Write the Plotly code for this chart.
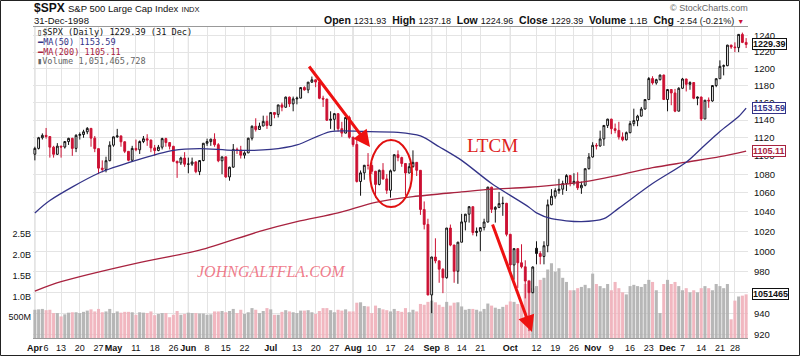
import math
import plotly.graph_objects as go

# ------------------------------------------------------------------ data
month_days = {
    4: [1, 2, 3, 6, 7, 8, 9, 13, 14, 15, 16, 17, 20, 21, 22, 23, 24, 27, 28, 29, 30],
    5: [1, 4, 5, 6, 7, 8, 11, 12, 13, 14, 15, 18, 19, 20, 21, 22, 26, 27, 28, 29],
    6: [1, 2, 3, 4, 5, 8, 9, 10, 11, 12, 15, 16, 17, 18, 19, 22, 23, 24, 25, 26, 29, 30],
    7: [1, 2, 6, 7, 8, 9, 10, 13, 14, 15, 16, 17, 20, 21, 22, 23, 24, 27, 28, 29, 30, 31],
    8: [3, 4, 5, 6, 7, 10, 11, 12, 13, 14, 17, 18, 19, 20, 21, 24, 25, 26, 27, 28, 31],
    9: [1, 2, 3, 4, 8, 9, 10, 11, 14, 15, 16, 17, 18, 21, 22, 23, 24, 25, 28, 29, 30],
    10: [1, 2, 5, 6, 7, 8, 9, 12, 13, 14, 15, 16, 19, 20, 21, 22, 23, 26, 27, 28, 29, 30],
    11: [2, 3, 4, 5, 6, 9, 10, 11, 12, 13, 16, 17, 18, 19, 20, 23, 24, 25, 27, 30],
    12: [1, 2, 3, 4, 7, 8, 9, 10, 11, 14, 15, 16, 17, 18, 21, 22, 23, 24, 28, 29, 30, 31],
}
dates = [f"1998-{m:02d}-{d:02d}" for m, days in month_days.items() for d in days]

opens = [
    1101.75, 1108.15, 1120.01, 1122.70, 1121.38, 1109.55, 1101.65, 1110.67, 1109.69, 1115.75, 1119.32,
    1108.17, 1122.72, 1123.65, 1126.67, 1130.54, 1119.58, 1107.90, 1086.54, 1085.11, 1094.63,
    1111.75, 1121.00, 1122.07, 1115.50, 1104.92, 1095.14, 1108.14, 1106.64, 1115.79, 1118.86,
    1117.37, 1108.73, 1105.82, 1109.52, 1119.06, 1114.64, 1110.47, 1094.02, 1092.23, 1097.60,
    1090.82, 1090.98, 1093.22, 1082.73, 1094.83, 1113.86, 1115.72, 1118.41, 1112.28, 1094.58, 1098.84,
    1077.01, 1087.59, 1107.11, 1106.37, 1100.65, 1103.21, 1119.49, 1132.88, 1129.28, 1133.20, 1138.49,
    1133.84, 1148.56, 1146.42, 1157.33, 1154.66, 1166.38, 1158.56, 1164.33, 1165.19, 1177.58, 1174.81,
    1183.99, 1186.75, 1184.10, 1165.07, 1164.08, 1139.75, 1140.80, 1147.27, 1130.24, 1125.21, 1142.95,
    1120.67, 1112.44, 1072.12, 1081.43, 1089.63, 1089.45, 1083.14, 1068.98, 1084.22, 1074.91, 1062.75,
    1083.67, 1101.20, 1098.06, 1091.60, 1081.24, 1088.14, 1092.85, 1084.19, 1042.59, 1027.14,
    957.28, 994.26, 990.47, 982.26, 973.89, 1023.46, 1006.20, 980.19, 1009.06, 1029.72, 1037.68,
    1045.48, 1018.87, 1020.09, 1023.89, 1029.63, 1066.09, 1042.72, 1044.75, 1048.69, 1049.02,
    1017.01, 986.39, 1002.60, 988.56, 984.59, 970.68, 959.44, 1003.00, 997.71, 994.80, 1005.53,
    1047.49, 1056.42, 1062.39, 1063.93, 1069.92, 1078.48, 1070.67, 1072.32, 1065.34, 1068.09, 1085.93,
    1098.67, 1111.60, 1110.84, 1118.67, 1133.85, 1141.01, 1130.20, 1128.26, 1120.97, 1117.69,
    1125.72, 1135.87, 1139.32, 1144.48, 1152.61, 1163.55, 1188.21, 1182.99, 1186.87, 1192.33,
    1163.63, 1175.28, 1171.25, 1150.14, 1176.74, 1187.70, 1181.38, 1183.49, 1165.02, 1166.46, 1141.20,
    1162.83, 1161.94, 1179.98, 1188.03, 1202.84, 1203.57, 1228.54, 1226.27, 1225.49, 1241.81, 1231.93,
]
highs = [
    1110.0, 1121.0, 1124.9, 1131.0, 1121.4, 1111.0, 1114.0, 1111.0, 1116.0, 1120.0, 1120.0,
    1124.0, 1126.0, 1129.0, 1132.0, 1131.0, 1122.0, 1108.0, 1095.0, 1099.0, 1116.0,
    1121.5, 1130.0, 1122.5, 1116.0, 1105.0, 1111.0, 1118.0, 1117.0, 1122.0, 1124.0,
    1118.0, 1112.0, 1112.0, 1120.0, 1120.0, 1115.0, 1111.0, 1094.5, 1099.0, 1104.0,
    1098.0, 1098.0, 1094.0, 1095.0, 1114.0, 1119.0, 1119.0, 1125.0, 1114.0, 1099.0, 1099.0,
    1088.0, 1113.0, 1109.0, 1111.0, 1105.0, 1120.0, 1134.0, 1142.0, 1137.0, 1145.0, 1145.0,
    1149.0, 1149.0, 1157.5, 1160.0, 1167.0, 1167.0, 1167.0, 1167.0, 1178.0, 1179.0, 1184.0,
    1190.6, 1187.0, 1188.0, 1168.0, 1164.5, 1150.0, 1148.0, 1147.5, 1138.0, 1143.0, 1145.0,
    1121.0, 1119.0, 1084.0, 1090.0, 1103.0, 1093.0, 1083.5, 1085.0, 1092.0, 1080.0,
    1085.0, 1101.5, 1106.0, 1099.0, 1092.0, 1092.0, 1106.0, 1093.0, 1084.5, 1051.0, 1033.0,
    994.5, 1013.0, 990.5, 983.0, 1023.5, 1027.0, 1006.5, 1009.5, 1038.0, 1038.0, 1046.0,
    1045.5, 1024.0, 1024.0, 1033.0, 1066.5, 1066.5, 1046.0, 1061.0, 1056.0, 1049.5,
    1017.5, 1003.0, 1003.0, 1007.0, 991.0, 971.0, 985.0, 1010.0, 1000.0, 1010.0, 1053.0,
    1064.0, 1065.0, 1075.0, 1073.0, 1080.0, 1079.0, 1081.0, 1082.0, 1072.0, 1086.0, 1103.0,
    1115.0, 1114.0, 1128.0, 1134.0, 1141.5, 1141.5, 1136.0, 1138.0, 1126.0, 1127.0,
    1139.0, 1153.0, 1146.0, 1155.0, 1164.0, 1190.0, 1191.0, 1188.0, 1193.0, 1193.0,
    1175.5, 1175.5, 1176.0, 1178.0, 1189.0, 1188.0, 1185.0, 1184.0, 1167.0, 1167.0, 1163.0,
    1166.0, 1180.0, 1188.5, 1210.0, 1205.0, 1229.0, 1229.0, 1232.0, 1242.0, 1244.0, 1237.18,
]
lows = [
    1095.0, 1107.0, 1118.0, 1119.0, 1098.0, 1098.0, 1101.0, 1098.0, 1108.0, 1112.0, 1100.0,
    1104.0, 1118.0, 1120.0, 1124.0, 1110.0, 1104.0, 1080.0, 1082.0, 1082.0, 1094.0,
    1110.0, 1120.0, 1110.0, 1103.0, 1094.0, 1094.0, 1105.0, 1102.0, 1114.0, 1111.0,
    1104.0, 1100.0, 1105.0, 1107.0, 1110.0, 1107.0, 1093.0, 1076.0, 1090.0, 1088.0,
    1081.0, 1089.0, 1081.0, 1079.0, 1094.0, 1111.0, 1111.0, 1110.0, 1093.0, 1080.0, 1076.0,
    1073.0, 1087.0, 1102.0, 1097.0, 1097.0, 1103.0, 1117.0, 1127.0, 1129.0, 1133.0, 1130.0,
    1133.0, 1142.0, 1143.0, 1150.0, 1154.0, 1155.0, 1150.0, 1158.0, 1165.0, 1174.0, 1171.0,
    1183.0, 1178.0, 1164.0, 1155.0, 1139.0, 1130.0, 1128.0, 1127.0, 1121.0, 1125.0, 1119.0,
    1110.0, 1071.0, 1057.0, 1074.0, 1085.0, 1080.0, 1055.0, 1068.0, 1074.0, 1059.0,
    1055.0, 1083.0, 1094.0, 1088.0, 1057.0, 1081.0, 1087.0, 1078.0, 1037.0, 1022.0, 957.0,
    940.0, 988.0, 969.0, 959.0, 973.0, 1005.0, 969.0, 968.0, 1009.0, 1021.0, 1029.0,
    1016.0, 1015.0, 1000.0, 1021.0, 1029.0, 1039.0, 1029.0, 1044.0, 1036.0, 1015.0,
    981.0, 972.0, 964.0, 983.0, 954.0, 923.3, 959.0, 987.0, 987.0, 987.0, 999.0,
    1047.0, 1054.0, 1059.0, 1058.0, 1062.0, 1067.0, 1068.0, 1063.0, 1059.0, 1067.0, 1085.0,
    1098.0, 1107.0, 1110.0, 1111.0, 1131.0, 1124.0, 1125.0, 1118.0, 1116.0, 1117.0,
    1125.0, 1133.0, 1133.0, 1144.0, 1152.0, 1163.0, 1181.0, 1181.0, 1186.0, 1163.0,
    1150.0, 1157.0, 1149.0, 1150.0, 1176.0, 1173.0, 1175.0, 1164.0, 1157.0, 1139.0, 1141.0,
    1154.0, 1161.0, 1178.0, 1188.0, 1192.0, 1203.0, 1224.0, 1220.0, 1220.0, 1231.0, 1224.96,
]
closes = [
    1108.15, 1120.01, 1122.70, 1121.38, 1109.55, 1101.65, 1110.67, 1109.69, 1115.75, 1119.32, 1108.17,
    1122.72, 1123.65, 1126.67, 1130.54, 1119.58, 1107.90, 1086.54, 1085.11, 1094.63, 1111.75,
    1121.00, 1122.07, 1115.50, 1104.92, 1095.14, 1108.14, 1106.64, 1115.79, 1118.86, 1117.37,
    1108.73, 1105.82, 1109.52, 1119.06, 1114.64, 1110.47, 1094.02, 1092.23, 1097.60, 1090.82,
    1090.98, 1093.22, 1082.73, 1094.83, 1113.86, 1115.72, 1118.41, 1112.28, 1094.58, 1098.84, 1077.01,
    1087.59, 1107.11, 1106.37, 1100.65, 1103.21, 1119.49, 1132.88, 1129.28, 1133.20, 1138.49, 1133.84,
    1148.56, 1146.42, 1157.33, 1154.66, 1166.38, 1158.56, 1164.33, 1165.19, 1177.58, 1174.81, 1183.99,
    1186.75, 1184.10, 1165.07, 1164.08, 1139.75, 1140.80, 1147.27, 1130.24, 1125.21, 1142.95, 1120.67,
    1112.44, 1072.12, 1081.43, 1089.63, 1089.45, 1083.14, 1068.98, 1084.22, 1074.91, 1062.75,
    1083.67, 1101.20, 1098.06, 1091.60, 1081.24, 1088.14, 1092.85, 1084.19, 1042.59, 1027.14, 957.28,
    994.26, 990.47, 982.26, 973.89, 1023.46, 1006.20, 980.19, 1009.06, 1029.72, 1037.68, 1045.48,
    1018.87, 1020.09, 1023.89, 1029.63, 1066.09, 1042.72, 1044.75, 1048.69, 1049.02, 1017.01,
    986.39, 1002.60, 988.56, 984.59, 970.68, 959.44, 984.39, 997.71, 994.80, 1005.53, 1047.49,
    1056.42, 1062.39, 1063.93, 1069.92, 1078.48, 1070.67, 1072.32, 1065.34, 1068.09, 1085.93, 1098.67,
    1111.60, 1110.84, 1118.67, 1133.85, 1141.01, 1130.20, 1128.26, 1120.97, 1117.69, 1125.72,
    1135.87, 1139.32, 1144.48, 1152.61, 1163.55, 1188.21, 1182.99, 1186.87, 1192.33, 1163.63,
    1175.28, 1171.25, 1150.14, 1176.74, 1187.70, 1181.38, 1183.49, 1165.02, 1166.46, 1141.20, 1162.83,
    1161.94, 1179.98, 1188.03, 1202.84, 1203.57, 1228.54, 1226.27, 1225.49, 1241.81, 1231.93, 1229.39,
]
volumes_m = [
    680, 690, 700, 670, 680, 600, 600, 520, 570, 610, 620, 620, 600, 630, 660, 690, 640, 700, 620, 640, 700,
    600, 640, 610, 630, 630, 620, 560, 620, 610, 600, 640, 550, 580, 600, 600, 500, 560, 650, 560, 580,
    610, 600, 600, 590, 590, 560, 570, 640, 640, 650, 620, 650, 700, 600, 680, 580, 620, 720, 680, 600, 650, 720,
    690, 560, 560, 630, 670, 640, 620, 600, 660, 660, 670, 620, 580, 650, 720, 720, 670, 620, 680, 660, 690, 640,
    640, 850, 860, 770, 760, 600, 780, 720, 690, 670, 640, 700, 650, 630, 720, 620, 680, 640, 820, 800, 870,
    900, 860, 800, 750, 870, 780, 850, 860, 760, 680, 700, 700, 680, 640, 700, 830, 780, 730, 700, 750, 800,
    880, 870, 820, 800, 1300, 1400, 1200, 1250, 1400, 1450, 1650, 1800, 1600, 1680, 1450, 1350, 1150, 1150,
    1200, 1230, 1280, 1200,
    1550, 1300, 1250, 1200, 1300, 1150, 1350, 1200, 1100, 1050, 1250, 1280, 1250, 1230, 1300, 1400, 1350,
    1150, 600, 1300,
    1400, 1300, 1350, 1250, 1150, 1200, 1100, 1150, 1100, 1200, 1250, 1200, 1150, 1300, 1250, 1200, 1300,
    450, 900, 1000, 1020, 1051.47,
]

ma50_dates = ["1998-04-01", "1998-04-07", "1998-04-27", "1998-05-11", "1998-05-26", "1998-06-04",
              "1998-06-17", "1998-07-01", "1998-07-13", "1998-07-24", "1998-08-06", "1998-08-19",
              "1998-08-27", "1998-09-03", "1998-09-14", "1998-09-24", "1998-10-08", "1998-10-12",
              "1998-10-16", "1998-10-28", "1998-11-05", "1998-11-11", "1998-11-24", "1998-12-08",
              "1998-12-14", "1998-12-21", "1998-12-29", "1998-12-31"]
ma50_vals = [1039, 1052, 1081, 1095, 1106, 1108, 1106, 1107, 1112, 1127, 1127, 1126, 1122, 1110,
             1095, 1070, 1045, 1039, 1033, 1030, 1033, 1044, 1070, 1093, 1108, 1127, 1144, 1153.59]

ma200_dates = ["1998-04-01", "1998-04-13", "1998-05-11", "1998-06-04", "1998-06-26", "1998-07-13",
               "1998-07-28", "1998-08-11", "1998-08-25", "1998-09-14", "1998-09-24", "1998-10-08",
               "1998-10-29", "1998-11-11", "1998-11-24", "1998-12-08", "1998-12-21", "1998-12-31"]
ma200_vals = [961, 970, 988, 1001, 1020, 1030, 1039, 1050, 1056, 1061, 1064, 1066, 1072, 1079,
              1087, 1093, 1099, 1105.11]

tick_dates = ["1998-04-01", "1998-04-06", "1998-04-13", "1998-04-20", "1998-04-27", "1998-05-01",
              "1998-05-11", "1998-05-18", "1998-05-26", "1998-06-01", "1998-06-08", "1998-06-15",
              "1998-06-22", "1998-07-01", "1998-07-13", "1998-07-20", "1998-07-27", "1998-08-03",
              "1998-08-10", "1998-08-17", "1998-08-24", "1998-09-01", "1998-09-08", "1998-09-14",
              "1998-09-21", "1998-10-01", "1998-10-12", "1998-10-19", "1998-10-26", "1998-11-02",
              "1998-11-09", "1998-11-16", "1998-11-23", "1998-12-01", "1998-12-07", "1998-12-14",
              "1998-12-21", "1998-12-28"]
tick_text = ["Apr", "6", "13", "20", "27", "May", "11", "18", "26", "Jun", "8", "15", "22", "Jul",
             "13", "20", "27", "Aug", "10", "17", "24", "Sep", "8", "14", "21", "Oct", "12", "19",
             "26", "Nov", "9", "16", "23", "Dec", "7", "14", "21", "28"]
month_names = ["Apr", "May", "Jun", "Jul", "Aug", "Sep", "Oct", "Nov", "Dec"]

price_ticks = [920, 940, 960, 980, 1000, 1020, 1040, 1060, 1080, 1100, 1120, 1140, 1160, 1180,
               1200, 1220, 1240]
vol_ticks = [5e8, 1e9, 1.5e9, 2e9, 2.5e9]
vol_tick_text = ["500M", "1.0B", "1.5B", "2.0B", "2.5B"]

# ------------------------------------------------------------------ helpers
W, H = 800, 356
ML, MR, MT, MB = 33, 52, 27, 18
PW, PH = W - ML - MR, H - MT - MB


def fx(px):
    return (px - ML) / PW


def fy(py):
    return (H - MB - py) / PH


RED = "#cc1133"
NAVY = "#333388"
MAROON = "#a8223f"
SANS = "Liberation Sans, Arial, sans-serif"
MONO = "DejaVu Sans Mono, monospace"

idx = list(range(len(dates)))
pos = {d: i for i, d in enumerate(dates)}
prev_close = [opens[0]] + closes[:-1]
is_up = [c >= p for c, p in zip(closes, prev_close)]
volumes = [v * 1e6 for v in volumes_m]

fig = go.Figure()

# volume bars (primary y = left volume axis)
fig.add_trace(go.Bar(
    x=idx, y=volumes, yaxis="y",
    marker=dict(color=["#b0b0b0" if u else "#f0b0ba" for u in is_up], line=dict(width=0)),
    opacity=0.9, width=0.82, hoverinfo="skip", showlegend=False,
))

# moving averages (price axis y2)
fig.add_trace(go.Scatter(
    x=[pos[d] for d in ma200_dates], y=ma200_vals, yaxis="y2", mode="lines",
    line=dict(color=MAROON, width=1.3, shape="spline", smoothing=0.8), showlegend=False,
))
fig.add_trace(go.Scatter(
    x=[pos[d] for d in ma50_dates], y=ma50_vals, yaxis="y2", mode="lines",
    line=dict(color=NAVY, width=1.3, shape="spline", smoothing=0.8), showlegend=False,
))

# candles: black for up days, red for down days (vs previous close)
for want_up, col in [(True, "#111111"), (False, RED)]:
    sel = [i for i in idx if is_up[i] == want_up]
    fig.add_trace(go.Candlestick(
        x=sel, open=[opens[i] for i in sel], high=[highs[i] for i in sel],
        low=[lows[i] for i in sel], close=[closes[i] for i in sel], yaxis="y2",
        increasing=dict(line=dict(color=col, width=1), fillcolor="white"),
        decreasing=dict(line=dict(color=col, width=1), fillcolor=col),
        whiskerwidth=0, showlegend=False, hoverinfo="skip",
    ))

shapes = []
# month separators
for d, t in zip(tick_dates, tick_text):
    if t in month_names:
        shapes.append(dict(type="line", xref="x", yref="paper", x0=pos[d], x1=pos[d], y0=0, y1=1,
                           line=dict(color="#c4c4c4", width=1), layer="below"))
# LTCM ellipse
shapes.append(dict(type="circle", xref="paper", yref="paper", x0=fx(370), x1=fx(412),
                   y0=fy(207), y1=fy(140), line=dict(color="#e01010", width=2)))
# outer frame
shapes.append(dict(type="rect", xref="paper", yref="paper", x0=fx(0.5), x1=fx(799.5),
                   y0=fy(355.5), y1=fy(0.5), line=dict(color="#222222", width=1)))

ann = []
# header
ann.append(dict(xref="paper", yref="paper", x=fx(32), y=fy(8), xanchor="left", yanchor="middle",
                text="<b>$SPX</b> <span style='font-size:9.5px'>S&amp;P 500 Large Cap Index</span> "
                     "<span style='font-size:7.5px'>INDX</span>",
                showarrow=False, font=dict(family=SANS, size=12, color="#111")))
ann.append(dict(xref="paper", yref="paper", x=fx(32), y=fy(20), xanchor="left", yanchor="middle",
                text="31-Dec-1998", showarrow=False, font=dict(family=SANS, size=9.5, color="#111")))
ann.append(dict(xref="paper", yref="paper", x=fx(750), y=fy(8), xanchor="right", yanchor="middle",
                text="© StockCharts.com", showarrow=False,
                font=dict(family=SANS, size=9, color="#666")))
hdr = ("<b>Open</b> <span style='font-size:9px'>1231.93</span>  <b>High</b> "
       "<span style='font-size:9px'>1237.18</span>  <b>Low</b> <span style='font-size:9px'>1224.96</span>  "
       "<b>Close</b> <span style='font-size:9px'>1229.39</span>  <b>Volume</b> "
       "<span style='font-size:9px'>1.1B</span>  <b>Chg</b> "
       "<span style='font-size:9px'>-2.54 (-0.21%)</span> <span style='color:#cc1133;font-size:7px'>▼</span>")
ann.append(dict(xref="paper", yref="paper", x=fx(746), y=fy(20), xanchor="right", yanchor="middle",
                text=hdr, showarrow=False, font=dict(family=SANS, size=10.5, color="#111")))

# in-plot legend
leg = [("▯$SPX (Daily) 1229.39 (31 Dec)", "#111", 32),
       ("━MA(50) 1153.59", NAVY, 42),
       ("━MA(200) 1105.11", MAROON, 52),
       ("▮Volume 1,051,465,728", "#666", 61)]
for txt, col, yy in leg:
    ann.append(dict(xref="paper", yref="paper", x=fx(35), y=fy(yy), xanchor="left", yanchor="middle",
                    text=txt, showarrow=False, font=dict(family=MONO, size=8.6, color=col)))

# price tags on the right axis
for val, col, ref in [(1229.39, "#111", "y2"), (1153.59, NAVY, "y2"), (1105.11, MAROON, "y2"),
                      (1051465728, "#111", "y")]:
    yv = math.log10(val) if ref == "y2" else val
    label = "1051465" if ref == "y" else f"{val:.2f}"
    ann.append(dict(xref="paper", yref=ref, x=1, y=yv, xanchor="left", yanchor="middle", xshift=4,
                    text=f"<b>{label}</b>", showarrow=False, bgcolor="white", bordercolor=col,
                    borderwidth=1, borderpad=0, font=dict(family=SANS, size=9, color=col)))

# hand-drawn annotations
ann.append(dict(xref="paper", yref="paper", x=fx(370), y=fy(147), ax=308 - 370, ay=65 - 147,
                showarrow=True, arrowhead=2, arrowsize=1.1, arrowwidth=3, arrowcolor="#ee1111", text=""))
ann.append(dict(xref="paper", yref="paper", x=fx(532), y=fy(332), ax=492 - 532, ay=223 - 332,
                showarrow=True, arrowhead=2, arrowsize=1.1, arrowwidth=3, arrowcolor="#ee1111", text=""))
ann.append(dict(xref="paper", yref="paper", x=fx(492), y=fy(145), xanchor="center", yanchor="middle",
                text="LTCM", showarrow=False,
                font=dict(family="Liberation Serif, DejaVu Serif, serif", size=19, color="#dd2020")))
ann.append(dict(xref="paper", yref="paper", x=fx(271), y=fy(271), xanchor="center", yanchor="middle",
                text="<i>JOHNGALTFLA.COM</i>", showarrow=False,
                font=dict(family="Liberation Serif, DejaVu Serif, serif", size=16, color="rgba(236,90,110,0.8)")))

fig.update_layout(
    width=W, height=H, margin=dict(l=ML, r=MR, t=MT, b=MB, autoexpand=False),
    paper_bgcolor="white", plot_bgcolor="white",
    showlegend=False, barmode="overlay", bargap=0.18,
    shapes=shapes, annotations=ann,
    xaxis=dict(
        range=[-0.5, len(dates) - 0.5], tickmode="array",
        tickvals=[pos[d] for d in tick_dates],
        ticktext=[f"<b>{t}</b>" if t in month_names else t for t in tick_text],
        tickangle=0, automargin=False,
        tickfont=dict(family=SANS, size=9, color="#111"), ticks="", ticklabelstandoff=1,
        showgrid=True, gridcolor="#e4e4e4", gridwidth=1, zeroline=False,
        showline=True, linecolor="#999", mirror=True, rangeslider=dict(visible=False),
        fixedrange=True,
    ),
    yaxis=dict(
        range=[0, 7.49e9], side="left", tickmode="array", tickvals=vol_ticks, ticktext=vol_tick_text,
        tickfont=dict(family=SANS, size=9, color="#111"), ticks="", ticklabelstandoff=1,
        showgrid=False, zeroline=False, showline=False, automargin=False,
    ),
    yaxis2=dict(
        type="log", range=[math.log10(917), math.log10(1251)], overlaying="y", side="right",
        tickmode="array", tickvals=price_ticks, ticktext=[str(t) for t in price_ticks],
        tickfont=dict(family=SANS, size=9.5, color="#111"), ticks="", ticklabelstandoff=5,
        showgrid=True, gridcolor="#e4e4e4", zeroline=False, showline=False, automargin=False,
    ),
)

fig.write_html(
    "out.html",
    config={"displayModeBar": False, "staticPlot": True},
    post_script="document.body.style.margin='0px';document.body.style.overflow='hidden';",
)
